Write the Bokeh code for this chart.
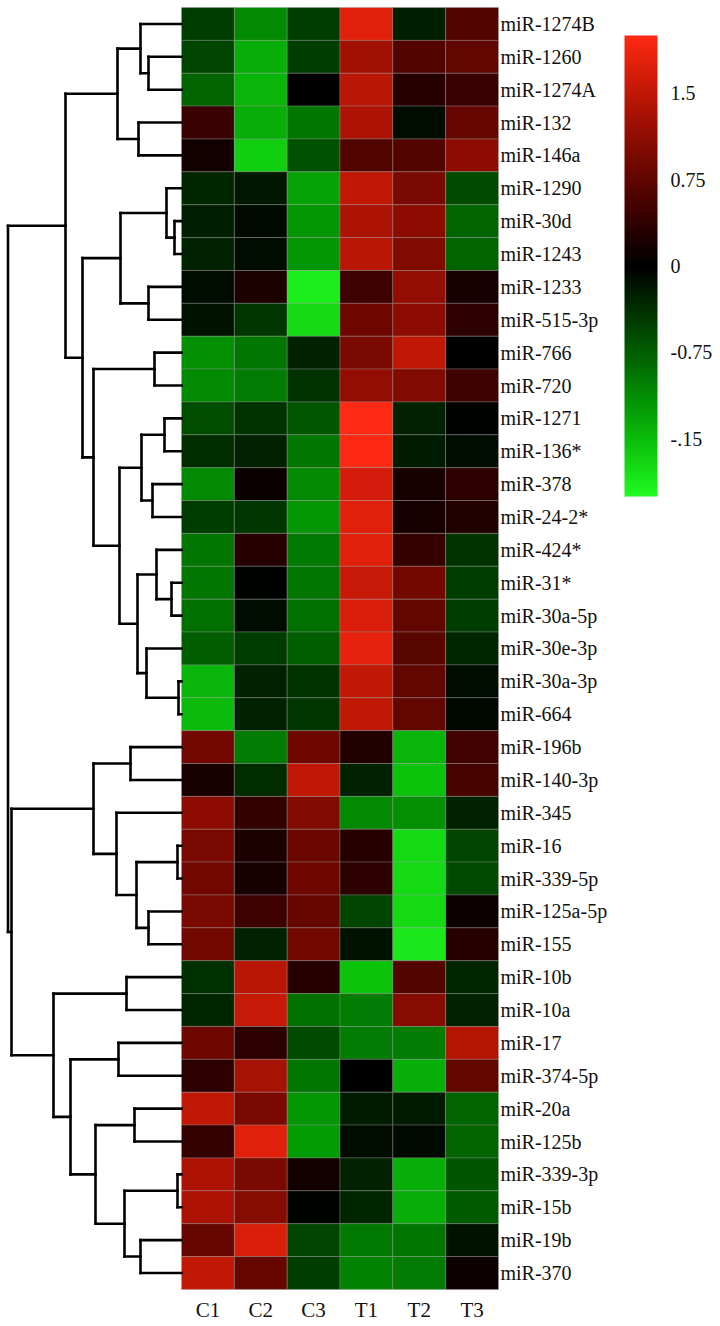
import numpy as np
from bokeh.plotting import figure
from bokeh.models import (Range1d, LinearColorMapper, ColorBar, FixedTicker,
                          ColumnDataSource, AllLabels)
from bokeh.core.properties import value
from bokeh.embed import file_html
from bokeh.resources import INLINE

# ---------------- data ----------------
samples = ["C1", "C2", "C3", "T1", "T2", "T3"]
mirnas = ["miR-1274B", "miR-1260", "miR-1274A", "miR-132", "miR-146a", "miR-1290",
          "miR-30d", "miR-1243", "miR-1233", "miR-515-3p", "miR-766", "miR-720",
          "miR-1271", "miR-136*", "miR-378", "miR-24-2*", "miR-424*", "miR-31*",
          "miR-30a-5p", "miR-30e-3p", "miR-30a-3p", "miR-664", "miR-196b",
          "miR-140-3p", "miR-345", "miR-16", "miR-339-5p", "miR-125a-5p", "miR-155",
          "miR-10b", "miR-10a", "miR-17", "miR-374-5p", "miR-20a", "miR-125b",
          "miR-339-3p", "miR-15b", "miR-19b", "miR-370"]

C1 = [-0.5, -0.55, -0.8, 0.45, 0.15, -0.3, -0.25, -0.28, -0.1, -0.15,
      -1.15, -1.1, -0.62, -0.35, -1.1, -0.5, -0.95, -0.95, -0.9, -0.75,
      -1.45, -1.5, 0.9, 0.2, 1.1, 0.95, 0.9, 0.95, 0.9, -0.4,
      -0.3, 0.85, 0.35, 1.5, 0.42, 1.35, 1.35, 0.8, 1.5]
C2 = [-1.1, -1.4, -1.45, -1.4, -1.65, -0.2, -0.08, -0.1, 0.22, -0.45,
      -0.95, -1.0, -0.42, -0.28, 0.08, -0.45, 0.3, -0.02, -0.1, -0.5,
      -0.28, -0.28, -1.0, -0.35, 0.4, 0.22, 0.2, 0.48, -0.28, 1.45,
      1.55, 0.35, 1.3, 0.95, 1.75, 0.95, 1.05, 1.7, 0.8]
C3 = [-0.5, -0.5, 0.0, -0.95, -0.65, -1.3, -1.2, -1.2, -1.9, -1.75,
      -0.28, -0.42, -0.7, -0.95, -1.1, -1.2, -0.98, -0.95, -0.9, -0.75,
      -0.42, -0.45, 0.85, 1.5, 1.0, 0.82, 0.85, 0.8, 0.9, 0.3,
      -0.9, -0.6, -0.95, -1.2, -1.25, 0.15, -0.02, -0.55, -0.5]
T1 = [1.75, 1.25, 1.45, 1.35, 0.65, 1.5, 1.35, 1.45, 0.48, 0.85,
      0.95, 1.15, 2.0, 1.98, 1.65, 1.75, 1.75, 1.55, 1.7, 1.8,
      1.5, 1.5, 0.28, -0.28, -1.1, 0.3, 0.35, -0.55, -0.15, -1.55,
      -1.0, -1.0, 0.0, -0.22, -0.1, -0.28, -0.3, -0.98, -1.05]
T2 = [-0.25, 0.65, 0.3, -0.1, 0.65, 0.95, 1.1, 1.0, 1.15, 1.1,
      1.5, 1.0, -0.28, -0.22, 0.2, 0.2, 0.42, 0.9, 0.75, 0.7,
      0.75, 0.78, -1.45, -1.55, -1.15, -1.75, -1.75, -1.75, -1.85, 0.65,
      1.05, -1.0, -1.4, -0.22, -0.08, -1.4, -1.38, -0.95, -1.0]
T3 = [0.65, 0.75, 0.45, 0.8, 1.1, -0.6, -0.8, -0.8, 0.2, 0.35,
      0.0, 0.48, -0.02, -0.1, 0.35, 0.28, -0.42, -0.5, -0.5, -0.3,
      -0.1, -0.05, 0.5, 0.55, -0.28, -0.55, -0.6, 0.1, 0.3, -0.3,
      -0.28, 1.4, 0.78, -0.8, -0.8, -0.68, -0.72, -0.15, 0.1]

# hierarchical clustering of rows: (node, left child, right child, merge distance)
merges = [
    ("A", 1, 2, 3.3), ("B", 0, "A", 4.1), ("C", 3, 4, 4.3), ("D", "B", "C", 6.4),
    ("I", 6, 7, 0.7), ("H", 5, "I", 1.5), ("J", 8, 9, 3.3), ("G", "H", "J", 6.1),
    ("L", 10, 11, 2.7), ("O", 12, 13, 1.7), ("P", 14, 15, 2.9), ("N", "O", "P", 4.0),
    ("S", 17, 18, 1.0), ("R", 16, "S", 2.5), ("U", 20, 21, 0.3), ("T", 19, "U", 3.5),
    ("Q", "R", "T", 4.4), ("M", "N", "Q", 6.2), ("K", "L", "M", 8.8),
    ("F", "G", "K", 9.9), ("E", "D", "F", 11.6),
    ("Y", 22, 23, 5.1), ("AB", 25, 26, 0.4), ("AC", 27, 28, 3.3), ("AA", "AB", "AC", 4.5),
    ("Z", 24, "AA", 6.5), ("W", "Y", "Z", 8.8),
    ("AD", 29, 30, 5.5), ("AF", 31, 32, 6.3), ("AH", 33, 34, 4.7), ("AJ", 35, 36, 0.4),
    ("AK", 37, 38, 4.1), ("AI", "AJ", "AK", 5.7), ("AG", "AH", "AI", 8.6),
    ("AE", "AF", "AG", 11.1), ("X", "AD", "AE", 12.8), ("V", "W", "X", 17.0),
    ("root", "E", "V", 17.35),
]

cbar_ticks = [-1.5, -0.75, 0, 0.75, 1.5]
cbar_labels = ["-.15", "-0.75", "0", "0.75", "1.5"]

# ---------------- style / layout ----------------
W, H = 720, 1326
COL_PX = 52.83          # pixel width of one heatmap column
ROW_PX = 32.87          # pixel height of one row
LEFT_PX = 181           # heatmap left edge inside figure
TOP_PX = 7              # heatmap top inside figure
DIST_PX = 10            # pixels per unit of merge distance
SERIF = "Liberation Serif"

x0 = -LEFT_PX / COL_PX
x1 = x0 + W / COL_PX
y_top = -TOP_PX / ROW_PX
y_bot = y_top + H / ROW_PX

# palette green - black - red
pal = []
n = 256
for i in range(n):
    v = -1 + 2 * i / (n - 1)
    t = abs(v)
    if v < 0:
        r, g, b = 35 * t ** 4, 250 * t, 35 * t ** 4
    else:
        r, g, b = 255 * t, 42 * t * t, 20 * t ** 4
    pal.append("#%02x%02x%02x" % (int(r), int(g), int(b)))
mapper = LinearColorMapper(palette=pal, low=-2, high=2)

p = figure(width=W, height=H, x_range=Range1d(x0, x1), y_range=Range1d(y_bot, y_top),
           x_axis_type=None, y_axis_type=None, toolbar_location=None,
           output_backend="svg", min_border=0)
p.outline_line_color = None
p.grid.visible = False

# heatmap
cols = [C1, C2, C3, T1, T2, T3]
xs, ys, vals = [], [], []
for ci, col in enumerate(cols):
    for ri, v in enumerate(col):
        xs.append(ci + 0.5)
        ys.append(ri + 0.5)
        vals.append(v)
src = ColumnDataSource(dict(x=xs, y=ys, v=vals))
p.rect(x="x", y="y", width=1, height=1, source=src,
       fill_color={"field": "v", "transform": mapper},
       line_color="#9a9a9a", line_alpha=0.35, line_width=1)

# dendrogram
scale = DIST_PX / COL_PX
pos = {}
for i in range(len(mirnas)):
    pos[i] = (0.0, i + 0.5)
sx0, sx1, sy0, sy1 = [], [], [], []
for name, a, b, h in merges:
    xa, ya = pos[a]
    xb, yb = pos[b]
    xn = -h * scale
    sx0 += [xn, xn, xn]
    sx1 += [xn, xa, xb]
    sy0 += [ya, ya, yb]
    sy1 += [yb, ya, yb]
    pos[name] = (xn, (ya + yb) / 2)
p.segment(x0=sx0, y0=sy0, x1=sx1, y1=sy1, line_color="black", line_width=2.6,
          line_cap="square")

# row labels
p.text(x=[6] * len(mirnas), y=[i + 0.5 for i in range(len(mirnas))], text=mirnas,
       x_offset=2, text_baseline="middle", text_align="left",
       text_font=value(SERIF), text_font_size="20px", text_color="#111111")

# column labels
p.text(x=[i + 0.5 for i in range(len(samples))], y=[len(mirnas)] * len(samples),
       text=samples, y_offset=21, text_baseline="middle", text_align="center",
       text_font=value(SERIF), text_font_size="21px", text_color="#111111")

# color bar
cb = ColorBar(color_mapper=mapper, width=33, height=461, padding=0,
              location=(624, H - 496), ticker=FixedTicker(ticks=cbar_ticks),
              major_label_overrides={t: l for t, l in zip(cbar_ticks, cbar_labels)},
              major_label_policy=AllLabels(),
              major_tick_line_color=None, major_tick_out=0, major_tick_in=0,
              label_standoff=13, bar_line_color=None, border_line_color=None,
              background_fill_alpha=0,
              major_label_text_font=SERIF, major_label_text_font_size="20px",
              major_label_text_color="#111111")
p.add_layout(cb)

open("out.html", "w").write(file_html(p, INLINE))
